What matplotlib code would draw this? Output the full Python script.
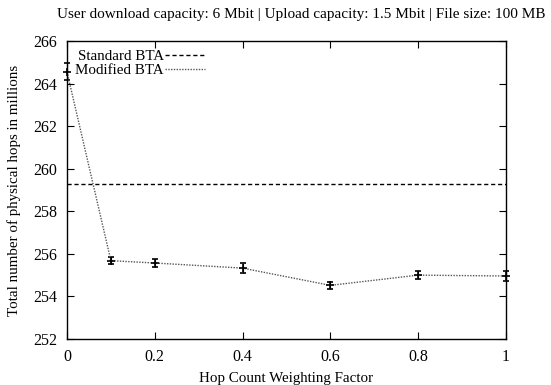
import matplotlib.pyplot as plt
from matplotlib.lines import Line2D

plt.rcParams["font.family"] = ["Liberation Serif", "DejaVu Serif"]

weights = [0.0, 0.1, 0.2, 0.4, 0.6, 0.8, 1.0]
modified_hops = [264.55, 255.68, 255.57, 255.33, 254.52, 255.0, 254.96]
modified_err = [0.4, 0.18, 0.2, 0.25, 0.17, 0.18, 0.25]
standard_hops = 259.3

x_ticks = [0, 0.2, 0.4, 0.6, 0.8, 1]
x_labels = ["0", "0.2", "0.4", "0.6", "0.8", "1"]
y_ticks = [252, 254, 256, 258, 260, 262, 264, 266]

STD_STYLE = dict(color="black", lw=1.0, ls=(0, (3, 2)))
MOD_STYLE = dict(color="#555555", lw=1.0, ls=(0, (1, 1)))


def main() -> None:
    fig = plt.figure(figsize=(5.51, 3.85), dpi=100)
    ax = fig.add_axes([0.1216, 0.1195, 0.7964, 0.774])

    ax.axhline(standard_hops, **STD_STYLE)
    ax.errorbar(weights, modified_hops, yerr=modified_err, marker="+", ms=6,
                mec="black", mew=1.2, ecolor="black", elinewidth=0.8,
                capsize=2.5, capthick=0.8, clip_on=False, **MOD_STYLE)

    ax.set_xlim(0, 1)
    ax.set_ylim(252, 266)
    ax.set_xticks(x_ticks)
    ax.set_xticklabels(x_labels)
    ax.set_yticks(y_ticks)
    ax.tick_params(direction="in", top=True, right=True, labelsize=11.5, length=5, pad=7)
    for s in ax.spines.values():
        s.set_linewidth(1.0)

    ax.set_xlabel("Hop Count Weighting Factor", fontsize=10.8, labelpad=5)
    ax.set_ylabel("Total number of physical hops in millions", fontsize=10.8, labelpad=9)
    fig.text(0.546, 0.962, "User download capacity: 6 Mbit | Upload capacity: 1.5 Mbit | File size: 100 MB",
             ha="center", va="center", fontsize=11)

    handles = [Line2D([], [], **STD_STYLE), Line2D([], [], **MOD_STYLE)]
    leg = ax.legend(handles, ["Standard BTA", "Modified BTA"], loc="upper left",
                    markerfirst=False, frameon=False, fontsize=10.8,
                    handlelength=2.7, handletextpad=0.05, borderaxespad=0.15,
                    labelspacing=0.05, alignment="right")
    for t in leg.get_texts():
        t.set_ha("right")

    fig.savefig("out.png", dpi=100)
    plt.close(fig)


if __name__ == "__main__":
    main()
